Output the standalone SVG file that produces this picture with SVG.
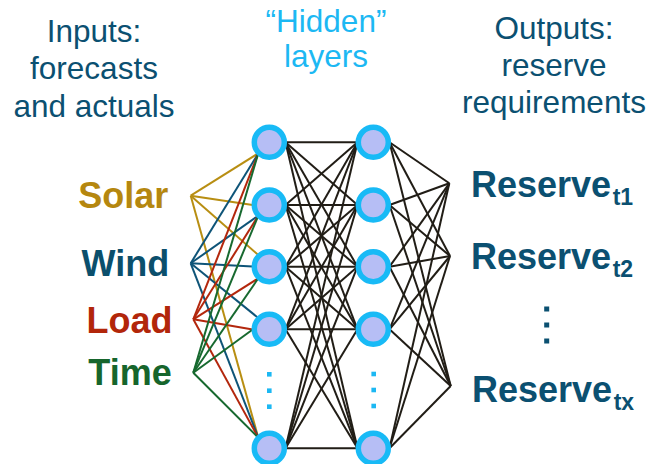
<svg xmlns="http://www.w3.org/2000/svg" width="651" height="464" viewBox="0 0 651 464">
<style>
.hdr{font-family:"Liberation Sans",Arial,sans-serif;font-size:31.5px;text-anchor:middle}
.teal{fill:#0B5071}
.sky{fill:#1CB8F3}
.lbl{font-family:"Liberation Sans",Arial,sans-serif;font-size:36px;font-weight:bold}
.sub{font-size:23px}
.node circle{fill:#B6BEF5;stroke:#18BAF6;stroke-width:5.5}
.conn line{stroke-width:2;fill:none}
.ys{stroke:#B88E12}
.bw{stroke:#0E5478}
.rl{stroke:#B3270D}
.gt{stroke:#17692F}
.bk{stroke:#211D16}
</style>
<rect width="651" height="464" fill="#FFFFFF"/>
<g id="titles">
<text class="hdr teal" x="94" y="41.5">Inputs:</text>
<text class="hdr teal" x="94" y="79">forecasts</text>
<text class="hdr teal" x="94" y="116.5">and actuals</text>
<text class="hdr sky" x="326" y="32">“Hidden”</text>
<text class="hdr sky" x="326" y="66.5">layers</text>
<text class="hdr teal" x="554" y="38.5">Outputs:</text>
<text class="hdr teal" x="554" y="76">reserve</text>
<text class="hdr teal" x="554" y="113">requirements</text>
</g>
<g id="connectors" class="conn">
<g class="ys">
<line x1="190.7" y1="195.7" x2="258.3" y2="153.3"/>
<line x1="190.7" y1="195.7" x2="252.7" y2="205"/>
<line x1="190.7" y1="195.7" x2="258.3" y2="255"/>
<line x1="190.7" y1="195.7" x2="258.3" y2="437.7"/>
</g>
<g class="bw">
<line x1="190.7" y1="263.3" x2="258.3" y2="153.3"/>
<line x1="190.7" y1="263.3" x2="258.3" y2="215.7"/>
<line x1="190.7" y1="263.3" x2="252.7" y2="266.5"/>
<line x1="190.7" y1="263.3" x2="258.3" y2="318"/>
<line x1="190.7" y1="263.3" x2="258.3" y2="437.7"/>
</g>
<g class="rl">
<line x1="193.3" y1="319.3" x2="258.3" y2="153.3"/>
<line x1="193.3" y1="319.3" x2="258.3" y2="215.7"/>
<line x1="193.3" y1="319.3" x2="258.3" y2="278.3"/>
<line x1="193.3" y1="319.3" x2="252.7" y2="329.5"/>
<line x1="193.3" y1="319.3" x2="258.3" y2="437.7"/>
</g>
<g class="gt">
<line x1="193.3" y1="372.7" x2="258.3" y2="153.3"/>
<line x1="193.3" y1="372.7" x2="258.3" y2="215.7"/>
<line x1="193.3" y1="372.7" x2="258.3" y2="278.3"/>
<line x1="193.3" y1="372.7" x2="252.7" y2="329.5"/>
<line x1="193.3" y1="372.7" x2="258.3" y2="437.7"/>
</g>
<g class="bk">
<line x1="285.5" y1="142.3" x2="357.5" y2="142.3"/>
<line x1="285.5" y1="142.3" x2="357.5" y2="205"/>
<line x1="285.5" y1="142.3" x2="357.5" y2="266.7"/>
<line x1="285.5" y1="142.3" x2="357.5" y2="329.3"/>
<line x1="285.5" y1="142.3" x2="357.5" y2="448.3"/>
<line x1="285.5" y1="205" x2="357.5" y2="142.3"/>
<line x1="285.5" y1="205" x2="357.5" y2="205"/>
<line x1="285.5" y1="205" x2="357.5" y2="266.7"/>
<line x1="285.5" y1="205" x2="357.5" y2="329.3"/>
<line x1="285.5" y1="205" x2="357.5" y2="448.3"/>
<line x1="285.5" y1="266.7" x2="357.5" y2="142.3"/>
<line x1="285.5" y1="266.7" x2="357.5" y2="205"/>
<line x1="285.5" y1="266.7" x2="357.5" y2="266.7"/>
<line x1="285.5" y1="266.7" x2="357.5" y2="329.3"/>
<line x1="285.5" y1="266.7" x2="357.5" y2="448.3"/>
<line x1="285.5" y1="329.3" x2="357.5" y2="142.3"/>
<line x1="285.5" y1="329.3" x2="357.5" y2="205"/>
<line x1="285.5" y1="329.3" x2="357.5" y2="266.7"/>
<line x1="285.5" y1="329.3" x2="357.5" y2="329.3"/>
<line x1="285.5" y1="329.3" x2="357.5" y2="448.3"/>
<line x1="285.5" y1="448.3" x2="357.5" y2="142.3"/>
<line x1="285.5" y1="448.3" x2="357.5" y2="205"/>
<line x1="285.5" y1="448.3" x2="357.5" y2="266.7"/>
<line x1="285.5" y1="448.3" x2="357.5" y2="329.3"/>
<line x1="285.5" y1="448.3" x2="357.5" y2="448.3"/>
<line x1="389.5" y1="142.3" x2="449.3" y2="183.3"/>
<line x1="389.5" y1="142.3" x2="450" y2="256"/>
<line x1="389.5" y1="142.3" x2="450.7" y2="386"/>
<line x1="389.5" y1="205" x2="449.3" y2="183.3"/>
<line x1="389.5" y1="205" x2="450" y2="256"/>
<line x1="389.5" y1="205" x2="450.7" y2="386"/>
<line x1="389.5" y1="266.7" x2="449.3" y2="183.3"/>
<line x1="389.5" y1="266.7" x2="450" y2="256"/>
<line x1="389.5" y1="266.7" x2="450.7" y2="386"/>
<line x1="389.5" y1="329.3" x2="449.3" y2="183.3"/>
<line x1="389.5" y1="329.3" x2="450" y2="256"/>
<line x1="389.5" y1="329.3" x2="450.7" y2="386"/>
<line x1="389.5" y1="448.3" x2="449.3" y2="183.3"/>
<line x1="389.5" y1="448.3" x2="450" y2="256"/>
<line x1="389.5" y1="448.3" x2="450.7" y2="386"/>
</g>
</g>
<g id="input-solar"><text class="lbl" x="78.3" y="208.3" fill="#B5870F">Solar</text></g>
<g id="input-wind"><text class="lbl" x="81.5" y="276" fill="#0B4F6C">Wind</text></g>
<g id="input-load"><text class="lbl" x="86.5" y="333.3" fill="#B2260A">Load</text></g>
<g id="input-time"><text class="lbl" x="88.3" y="385" fill="#16652C">Time</text></g>
<g id="h1-1" class="node"><circle cx="269.3" cy="142.3" r="15"/></g>
<g id="h1-2" class="node"><circle cx="269.3" cy="205" r="15"/></g>
<g id="h1-3" class="node"><circle cx="269.3" cy="266.7" r="15"/></g>
<g id="h1-4" class="node"><circle cx="269.3" cy="329.3" r="15"/></g>
<g id="h1-5" class="node"><circle cx="269.3" cy="448.3" r="15"/></g>
<g id="h1-dots" fill="#1CB8F3">
<rect x="267" y="372" width="4.6" height="4.6"/>
<rect x="267" y="388.4" width="4.6" height="4.6"/>
<rect x="267" y="404.4" width="4.6" height="4.6"/>
</g>
<g id="h2-1" class="node"><circle cx="373.3" cy="142.3" r="15"/></g>
<g id="h2-2" class="node"><circle cx="373.3" cy="205" r="15"/></g>
<g id="h2-3" class="node"><circle cx="373.3" cy="266.7" r="15"/></g>
<g id="h2-4" class="node"><circle cx="373.3" cy="329.3" r="15"/></g>
<g id="h2-5" class="node"><circle cx="373.3" cy="448.3" r="15"/></g>
<g id="h2-dots" fill="#1CB8F3">
<rect x="371.4" y="371.7" width="4.6" height="4.6"/>
<rect x="371.4" y="387.7" width="4.6" height="4.6"/>
<rect x="371.4" y="403.7" width="4.6" height="4.6"/>
</g>
<g id="out-t1"><text class="lbl teal" x="471" y="197.3">Reserve<tspan class="sub" dx="1.5" dy="8">t1</tspan></text></g>
<g id="out-t2"><text class="lbl teal" x="471" y="268.5">Reserve<tspan class="sub" dx="1.5" dy="8">t2</tspan></text></g>
<g id="out-dots" fill="#0B5071">
<rect x="544.2" y="306.5" width="5" height="5"/>
<rect x="544.2" y="322.5" width="5" height="5"/>
<rect x="544.2" y="338.5" width="5" height="5"/>
</g>
<g id="out-tx"><text class="lbl teal" x="472" y="402">Reserve<tspan class="sub" dx="1.5" dy="8">tx</tspan></text></g>
</svg>
